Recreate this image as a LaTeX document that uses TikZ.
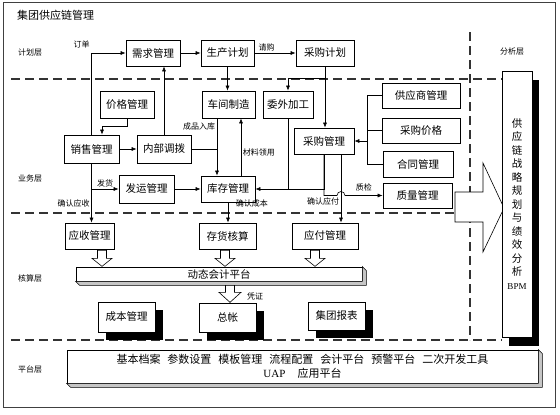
\documentclass[tikz,border=0pt]{standalone}
\usepackage{fontspec}
\setmainfont{Liberation Serif}
\newfontfamily\cjk{Noto Sans CJK SC}
\usetikzlibrary{arrows.meta, shadows}

\begin{document}
\begin{tikzpicture}[x=1pt, y=-1pt, >={Latex[length=5pt, width=4pt]},
  box/.style={draw, line width=0.7pt, fill=white, inner sep=0pt, minimum height=26pt,
    font=\cjk\fontsize{10.5}{12}\selectfont},
  shadowbox/.style={box, drop shadow={shadow xshift=8pt, shadow yshift=-8pt, fill=black, opacity=1}},
  lbl/.style={font=\cjk\fontsize{8}{9}\selectfont, inner sep=1.5pt},
  layer/.style={font=\cjk\fontsize{8}{9}\selectfont, anchor=west, inner sep=0pt},
  link/.style={line width=0.6pt},
  sep/.style={dash pattern=on 9pt off 5pt, line width=1.1pt, black!80},
  bevel/.style={draw, line width=0.6pt, fill=gray!45},
  hollow/.style={draw, line width=0.6pt, fill=white}]

  \useasboundingbox (0,0) rectangle (560,415);
  \draw[line width=0.8pt, black!75] (3,2) rectangle (555,407);
  \node[anchor=west, inner sep=0pt, font=\cjk\fontsize{11}{13}\selectfont] (title) at (17,15) {集团供应链管理};

  % layers
  \node[layer] (jhc) at (18,52) {计划层};
  \node[layer] (ywc) at (18,178) {业务层};
  \node[layer] (hsc) at (18,278) {核算层};
  \node[layer] (ptc) at (18,369) {平台层};
  \node[layer] (fxc) at (500,51) {分析层};
  \draw[sep] (11,79) -- (502,79);
  \draw[sep] (11,213) -- (455,213);
  \draw[sep] (11,340) -- (502,340);
  \draw[sep] (470,32) -- (470,340);

  % planning
  \node[box, minimum width=54pt] (xqgl) at (153,53) {需求管理};
  \node[box, minimum width=53pt] (scjh) at (227.5,53) {生产计划};
  \node[box, minimum width=58pt] (cgjh) at (325,53) {采购计划};

  % business
  \node[box, minimum width=54pt, minimum height=27pt] (jggl) at (127,104.5) {价格管理};
  \node[box, minimum width=53pt, minimum height=27pt] (cjzz) at (228.5,104.5) {车间制造};
  \node[box, minimum width=50pt, minimum height=27pt] (wwjg) at (288,104.5) {委外加工};
  \node[box, minimum width=78pt, minimum height=25pt] (gysgl) at (421,95.5) {供应商管理};
  \node[box, minimum width=78pt, minimum height=25pt] (cgjg) at (421,130.5) {采购价格};
  \node[box, minimum width=70pt] (htgl) at (418,164) {合同管理};
  \node[box, minimum width=69pt, minimum height=25pt] (zlgl) at (417.5,195.5) {质量管理};
  \node[box, minimum width=60pt] (cggl) at (324,141) {采购管理};
  \node[box, minimum width=55pt, minimum height=28pt] (xsgl) at (91.5,149) {销售管理};
  \node[box, minimum width=54pt, minimum height=28pt] (nbdb) at (164,149) {内部调拨};
  \node[box, minimum width=55pt, minimum height=28pt] (fygl) at (146.5,189) {发运管理};
  \node[box, minimum width=54pt] (kcgl) at (228,189) {库存管理};

  % accounting
  \node[box, minimum width=49pt] (ysgl) at (89.5,236) {应收管理};
  \node[box, minimum width=57pt] (chhs) at (227.5,236) {存货核算};
  \node[box, minimum width=66pt] (yfgl) at (325,236) {应付管理};
  \node[box, minimum width=286pt, minimum height=14pt] (dtkj) at (219,274) {动态会计平台};
  \draw[bevel] (dtkj.south west) -- ([shift={(4pt,-4pt)}]dtkj.south west)
    -- ([shift={(4pt,-4pt)}]dtkj.south east) -- ([shift={(4pt,-4pt)}]dtkj.north east)
    -- (dtkj.north east) -- (dtkj.south east) -- cycle;
  \node[shadowbox, minimum width=57pt, minimum height=30pt] (cbgl) at (126.5,317) {成本管理};
  \node[shadowbox, minimum width=57pt, minimum height=29pt] (zz) at (227.5,317.5) {总帐};
  \node[shadowbox, minimum width=57pt, minimum height=28pt] (jtbb) at (336.5,316) {集团报表};

  % platform
  \node[box, minimum width=471pt, minimum height=33pt, align=center,
    font=\cjk\fontsize{11}{14}\selectfont] (uap) at (302.5,366.5)
    {基本档案\hspace{7pt}参数设置\hspace{7pt}模板管理\hspace{7pt}流程配置\hspace{7pt}会计平台\hspace{7pt}预警平台\hspace{7pt}二次开发工具\\
     {\rmfamily UAP}\hspace{12pt}应用平台};
  \draw[bevel] (uap.south west) -- ([shift={(4pt,-4pt)}]uap.south west)
    -- ([shift={(4pt,-4pt)}]uap.south east) -- ([shift={(4pt,-4pt)}]uap.north east)
    -- (uap.north east) -- (uap.south east) -- cycle;

  % analysis
  \draw[hollow] (455,192) -- (483,192) -- (483,163) -- (504,208) -- (483,252)
    -- (483,222) -- (455,222) -- cycle;
  \node[box, minimum width=30pt, minimum height=266pt, align=center,
    drop shadow={shadow xshift=7pt, shadow yshift=-9pt, fill=black, opacity=1},
    font=\cjk\fontsize{10.5}{13.5}\selectfont] (bpm) at (517,204)
    {供\\应\\链\\战\\略\\规\\划\\与\\绩\\效\\分\\析\\{\rmfamily\fontsize{9}{13.5}\selectfont BPM}};

  % connectors
  \draw[link, ->] (xsgl.north) |- (xqgl.west)
    node[lbl, pos=0.5, above left, yshift=3pt] {订单};
  \draw[link, ->] (jggl.south) -- ++(0,8) -| ([xshift=10.5pt]xsgl.north);
  \draw[link, ->] (nbdb.north) -- (nbdb.north |- xqgl.south);
  \draw[link, ->] (xqgl.east) -- (scjh.west);
  \draw[link, ->] (scjh.east) -- (cgjh.west) node[lbl, pos=0.3, above] {请购};
  \draw[link, ->] (scjh.south) -- (scjh.south |- cjzz.north);
  \coordinate (wwbr) at ([yshift=12pt]wwjg.north);
  \draw[link, ->] (cgjh.south) -- (cgjh.south |- cggl.north);
  \draw[link, ->] (cgjh.south |- wwbr) -| (wwjg.north);
  \draw[link, ->] (xsgl.east) -- (nbdb.west);
  \coordinate (cprk) at ([xshift=-11pt]kcgl.north);
  \draw[link, ->] ([xshift=-11.5pt]cjzz.south) -- (cprk)
    node[lbl, pos=0.15, left] {成品入库};
  \draw[link] (nbdb.east) -- (nbdb.east -| cprk);
  \coordinate (clly) at ([xshift=13pt]kcgl.north);
  \draw[link, ->] (clly) -- (clly |- cjzz.south) node[lbl, pos=0.4, right] {材料领用};
  \draw[link, ->] (wwjg.south) |- (kcgl.east);
  \draw[link] (cggl.south) |- (wwjg.south |- kcgl.east);
  \coordinate (qrzf) at ([xshift=17pt]cggl.south);
  \draw[link, ->] (qrzf) -- (qrzf |- yfgl.north)
    node[lbl, pos=0.72, left, yshift=2pt] {确认应付};
  \coordinate (hop) at (qrzf |- zlgl.west);
  \draw[link, ->] (cggl.south) |- ([xshift=-4pt]hop)
    arc[start angle=180, end angle=0, radius=4pt] -- (zlgl.west)
    node[lbl, pos=0.5, above, yshift=3pt] {质检};
  \coordinate (gys) at ([xshift=-14pt]gysgl.west);
  \draw[link] (gysgl.west) -- (gys) |- (htgl.west);
  \draw[link] (cgjg.west) -- (cgjg.west -| gys);
  \draw[link, ->] (gys |- cggl.east) -- (cggl.east);
  \draw[link, ->] (xsgl.south) -- (xsgl.south |- ysgl.north)
    node[lbl, pos=0.71, left, yshift=2pt] {确认应收};
  \draw[link, ->] (xsgl.south |- fygl.west) -- (fygl.west) node[lbl, pos=0.5, above] {发货};
  \draw[link, ->] (fygl.east) -- (kcgl.west);
  \draw[link, ->] (kcgl.south) -- (kcgl.south |- chhs.north)
    node[lbl, pos=0.15, right, xshift=6pt, yshift=2pt] {确认成本};

  % hollow arrows
  \foreach \n/\dx in {ysgl/12.5, chhs/-2.5, yfgl/-10}
    \draw[hollow] ([xshift=\dx pt]\n.south) ++(-4.5,1) -- ++(0,8) -- ++(-5.5,0)
      -- ++(10,8) -- ++(10,-8) -- ++(-5.5,0) -- ++(0,-8) -- cycle;
  \draw[hollow] ([xshift=11pt, yshift=-4pt]dtkj.south) ++(-4.5,0) -- ++(0,7) -- ++(-6.5,0)
    -- ++(11,10) -- ++(11,-10) -- ++(-6.5,0) -- ++(0,-7) -- cycle;
  \node[lbl] (pz) at ([xshift=36pt, yshift=-15pt]dtkj.south) {凭证};
\end{tikzpicture}
\end{document}
